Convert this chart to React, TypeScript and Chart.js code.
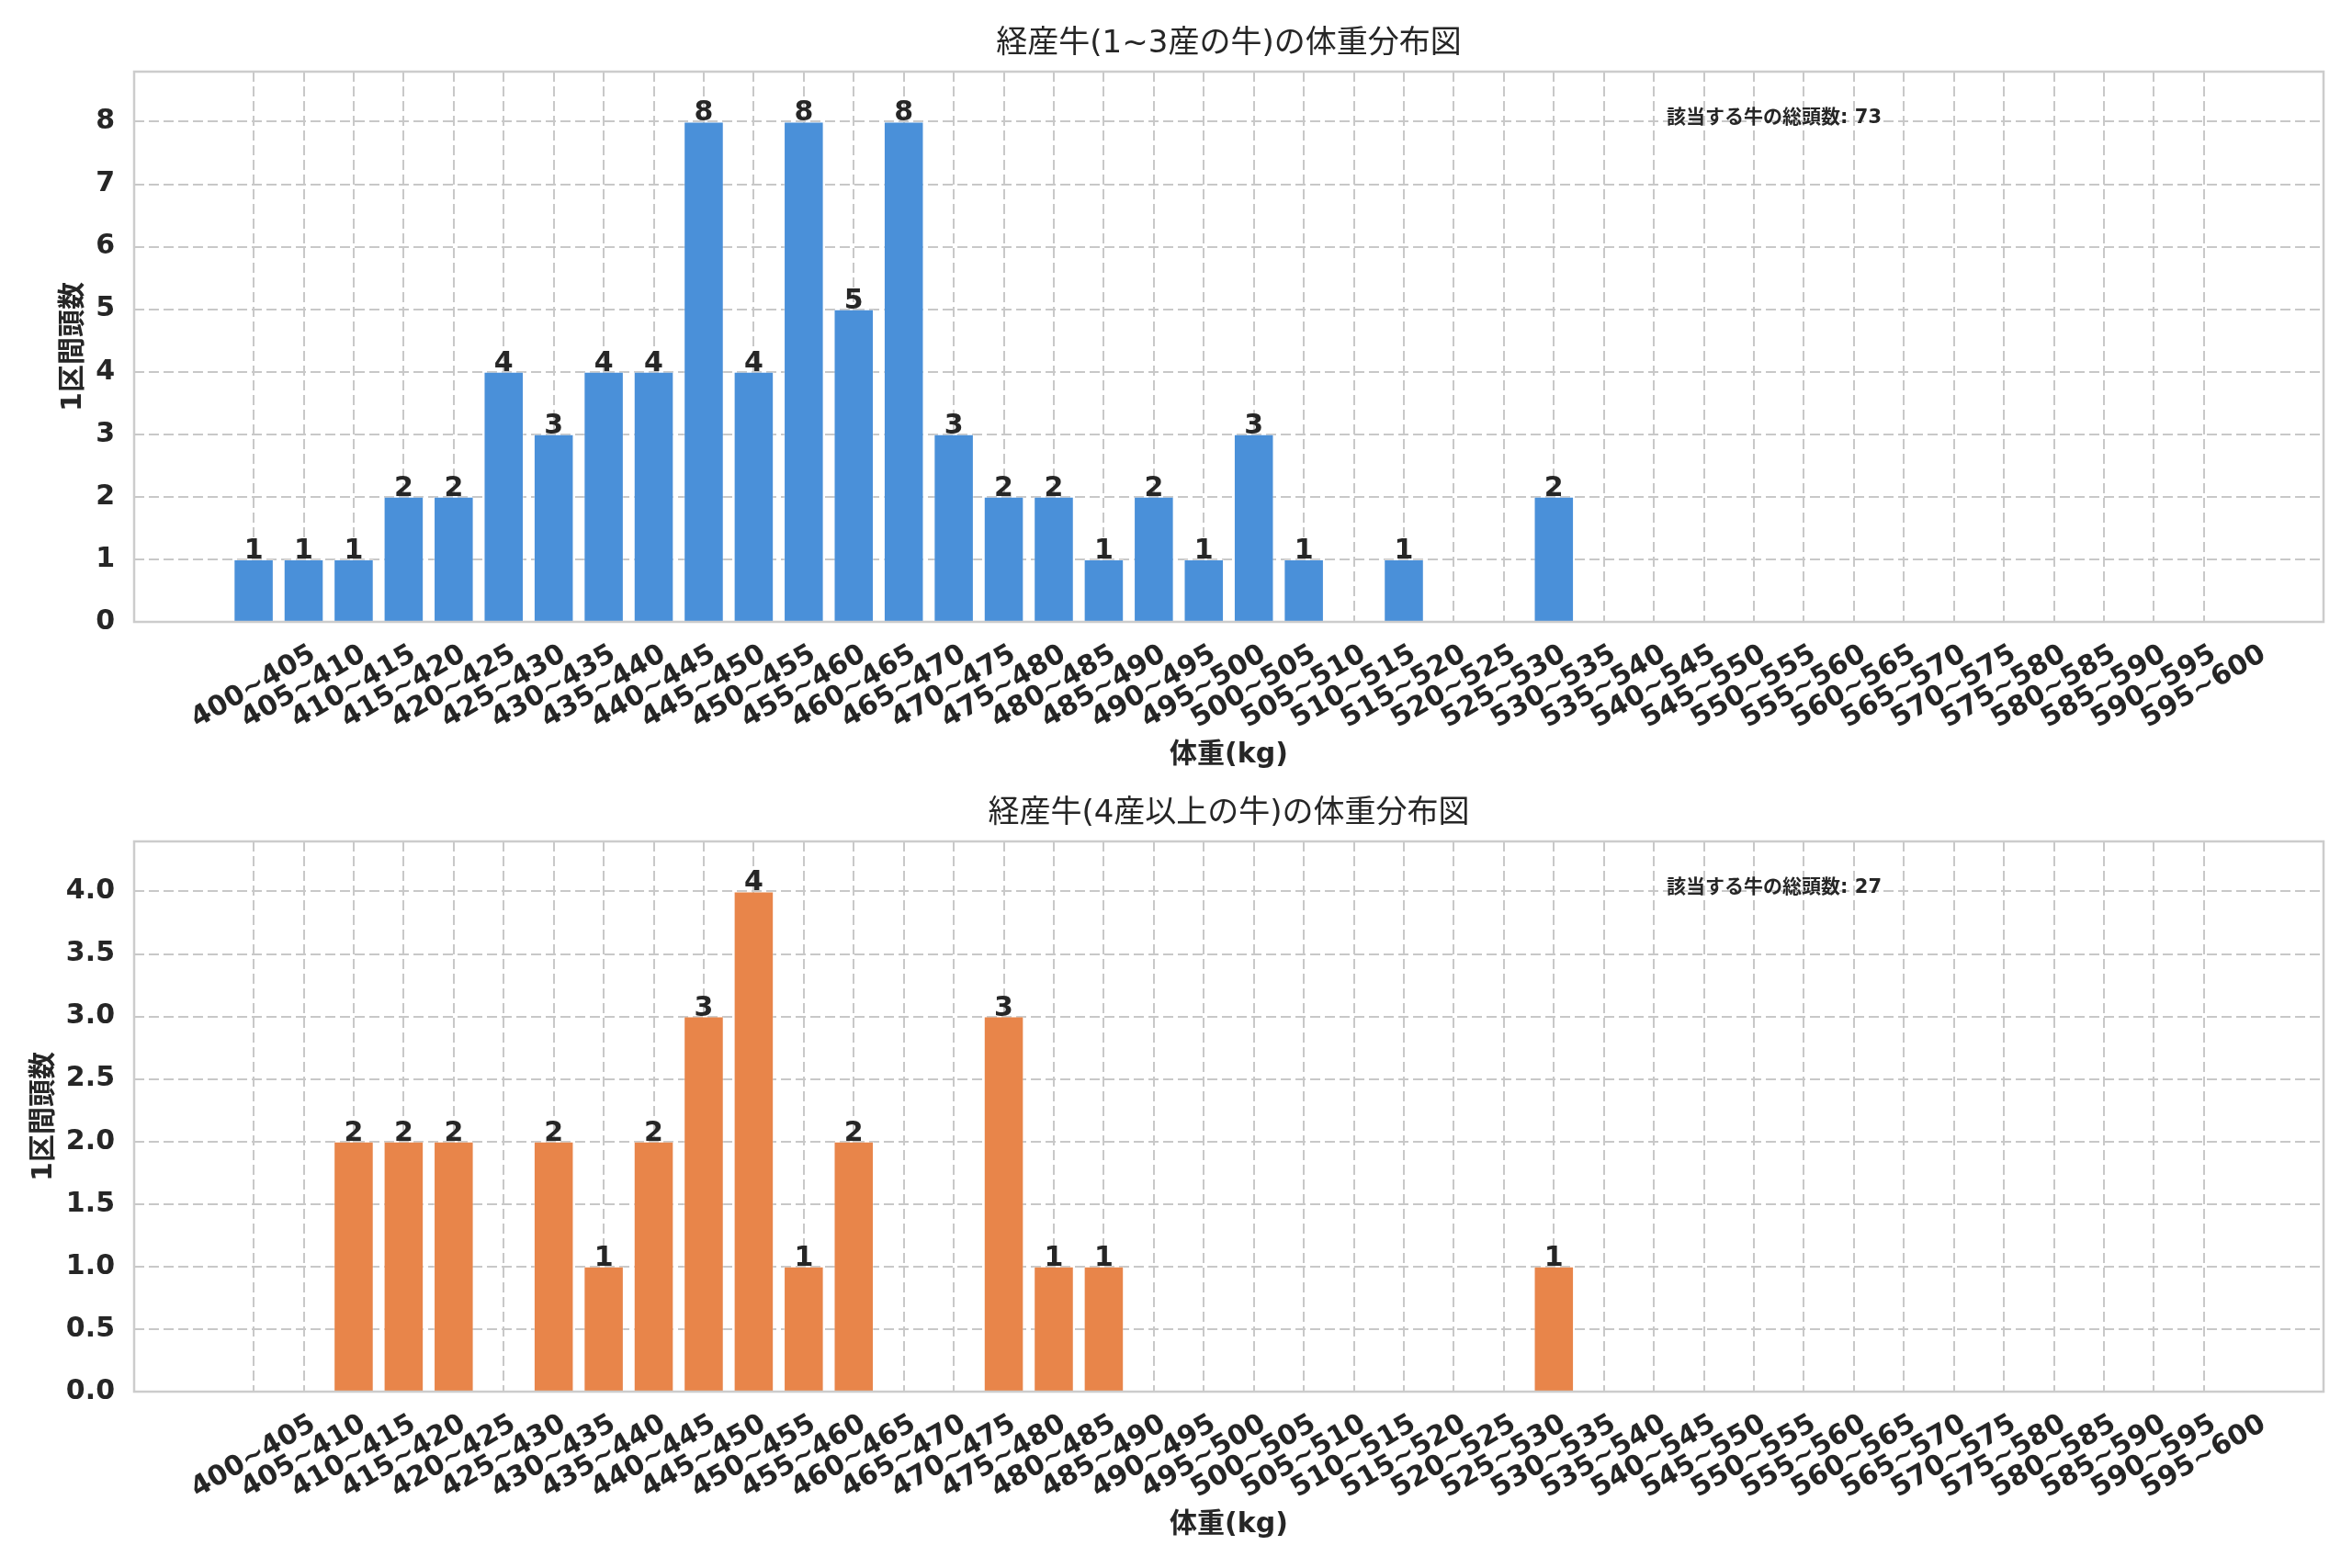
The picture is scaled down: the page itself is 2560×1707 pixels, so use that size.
import { useEffect, useRef } from 'react'
import { Chart, registerables } from 'chart.js'

Chart.register(...registerables)

document.body.style.margin = '0'

const FONT = '"DejaVu Sans", "Noto Sans CJK JP", sans-serif'
const TEXT = '#262626'
const GRID = '#c8c8c8'
const SPINE = '#cccccc'

const BIN_LABELS = [
  '400~405', '405~410', '410~415', '415~420', '420~425', '425~430', '430~435', '435~440',
  '440~445', '445~450', '450~455', '455~460', '460~465', '465~470', '470~475', '475~480',
  '480~485', '485~490', '490~495', '495~500', '500~505', '505~510', '510~515', '515~520',
  '520~525', '525~530', '530~535', '535~540', '540~545', '545~550', '550~555', '555~560',
  '560~565', '565~570', '570~575', '575~580', '580~585', '585~590', '590~595', '595~600',
]

// 1~3産
const YOUNG_COUNTS = [
  1, 1, 1, 2, 2, 4, 3, 4, 4, 8, 4, 8, 5, 8, 3, 2, 2, 1, 2, 1,
  3, 1, 0, 1, 0, 0, 2, 0, 0, 0, 0, 0, 0, 0, 0, 0, 0, 0, 0, 0,
]
// 4産以上
const OLD_COUNTS = [
  0, 0, 2, 2, 2, 0, 2, 1, 2, 3, 4, 1, 2, 0, 0, 3, 1, 1, 0, 0,
  0, 0, 0, 0, 0, 0, 1, 0, 0, 0, 0, 0, 0, 0, 0, 0, 0, 0, 0, 0,
]

const YOUNG_TOTAL = 73
const OLD_TOTAL = 27

const X_LABEL = '体重(kg)'
const Y_LABEL = '1区間頭数'

interface PanelProps {
  counts: number[]
  color: string
  title: string
  note: string
  yMax: number
  yStep: number
  decimals: number
  height: number
  top: number
  bottom: number
  yLabelX: number
}

function Panel({ counts, color, title, note, yMax, yStep, decimals, height, top, bottom, yLabelX }: PanelProps) {
  const canvasRef = useRef<HTMLCanvasElement>(null)
  const chartRef = useRef<Chart | null>(null)

  useEffect(() => {
    if (!canvasRef.current) return
    chartRef.current?.destroy()

    const overlay = {
      id: 'overlay',
      afterDatasetsDraw(chart: any) {
        const { ctx, chartArea: a, scales } = chart
        const cx = (a.left + a.right) / 2
        ctx.save()
        ctx.setLineDash([])
        ctx.strokeStyle = SPINE
        ctx.lineWidth = 2.5
        ctx.strokeRect(a.left, a.top, a.right - a.left, a.bottom - a.top)

        ctx.fillStyle = TEXT
        ctx.textAlign = 'center'

        // value labels on bars
        ctx.font = `bold 30px ${FONT}`
        ctx.textBaseline = 'alphabetic'
        chart.getDatasetMeta(0).data.forEach((bar: any, i: number) => {
          if (!counts[i]) return
          ctx.fillText(String(counts[i]), bar.x, bar.y - 1)
        })

        // rotated bin labels, centred on tick like matplotlib
        ctx.font = `bold 30px ${FONT}`
        ctx.textBaseline = 'middle'
        BIN_LABELS.forEach((lab, i) => {
          ctx.save()
          ctx.translate(scales.x.getPixelForValue(i), a.bottom + 71)
          ctx.rotate(-Math.PI / 6)
          ctx.fillText(lab, 0, 0)
          ctx.restore()
        })

        ctx.font = `34px ${FONT}`
        ctx.fillText(title, cx, a.top - 30)

        ctx.font = `bold 30px ${FONT}`
        ctx.fillText(X_LABEL, cx, a.bottom + 145)

        ctx.save()
        ctx.translate(yLabelX, (a.top + a.bottom) / 2)
        ctx.rotate(-Math.PI / 2)
        ctx.fillText(Y_LABEL, 0, 0)
        ctx.restore()

        ctx.font = `bold 21px ${FONT}`
        ctx.textAlign = 'left'
        ctx.fillText(note, a.left + 0.7 * (a.right - a.left), a.top + 51)
        ctx.restore()
      },
    }

    chartRef.current = new Chart(canvasRef.current, {
      type: 'bar',
      data: {
        datasets: [{
          data: counts.map((v, i) => ({ x: i, y: v })),
          backgroundColor: color,
          borderColor: 'rgba(255,255,255,0.35)',
          borderWidth: 1,
          barPercentage: 0.8,
          categoryPercentage: 1,
        }],
      },
      options: {
        responsive: false,
        devicePixelRatio: 1,
        animation: false,
        layout: { padding: { left: 0, right: 31, top, bottom: 0 } },
        plugins: { legend: { display: false }, tooltip: { enabled: false } },
        scales: {
          x: {
            type: 'linear',
            offset: false,
            min: -2.39,
            max: BIN_LABELS.length - 1 + 2.39,
            afterBuildTicks: (s: any) => { s.ticks = s.ticks.filter((t: any) => t.value >= 0 && t.value < BIN_LABELS.length) },
            afterFit: (s: any) => { s.height = height - bottom },
            ticks: { display: false, stepSize: 1, includeBounds: false, autoSkip: false },
            grid: { color: GRID, lineWidth: 2, drawTicks: false, offset: false },
            border: { display: false, dash: [11, 5] },
          },
          y: {
            min: 0,
            max: yMax,
            afterFit: (s: any) => { s.width = 146 },
            ticks: {
              stepSize: yStep,
              includeBounds: false,
              padding: 21,
              color: TEXT,
              font: { family: FONT, size: 30, weight: 'bold' },
              callback: (v: any) => Number(v).toFixed(decimals),
            },
            grid: { color: GRID, lineWidth: 2, drawTicks: false },
            border: { display: false, dash: [11, 5] },
          },
        },
      },
      plugins: [overlay],
    } as any)

    return () => { chartRef.current?.destroy() }
  }, [counts, color, title, note, yMax, yStep, decimals, height, top, bottom, yLabelX])

  return <canvas ref={canvasRef} width={2560} height={height} style={{ display: 'block' }} />
}

export default function App() {
  return (
    <div style={{ width: 2560, background: '#fff' }}>
      <Panel
        counts={YOUNG_COUNTS}
        color="#4a90d9"
        title="経産牛(1~3産の牛)の体重分布図"
        note={`該当する牛の総頭数: ${YOUNG_TOTAL}`}
        yMax={8.8}
        yStep={1}
        decimals={0}
        height={853}
        top={78}
        bottom={677}
        yLabelX={80}
      />
      <Panel
        counts={OLD_COUNTS}
        color="#e8854a"
        title="経産牛(4産以上の牛)の体重分布図"
        note={`該当する牛の総頭数: ${OLD_TOTAL}`}
        yMax={4.4}
        yStep={0.5}
        decimals={1}
        height={854}
        top={63}
        bottom={662}
        yLabelX={48}
      />
    </div>
  )
}
